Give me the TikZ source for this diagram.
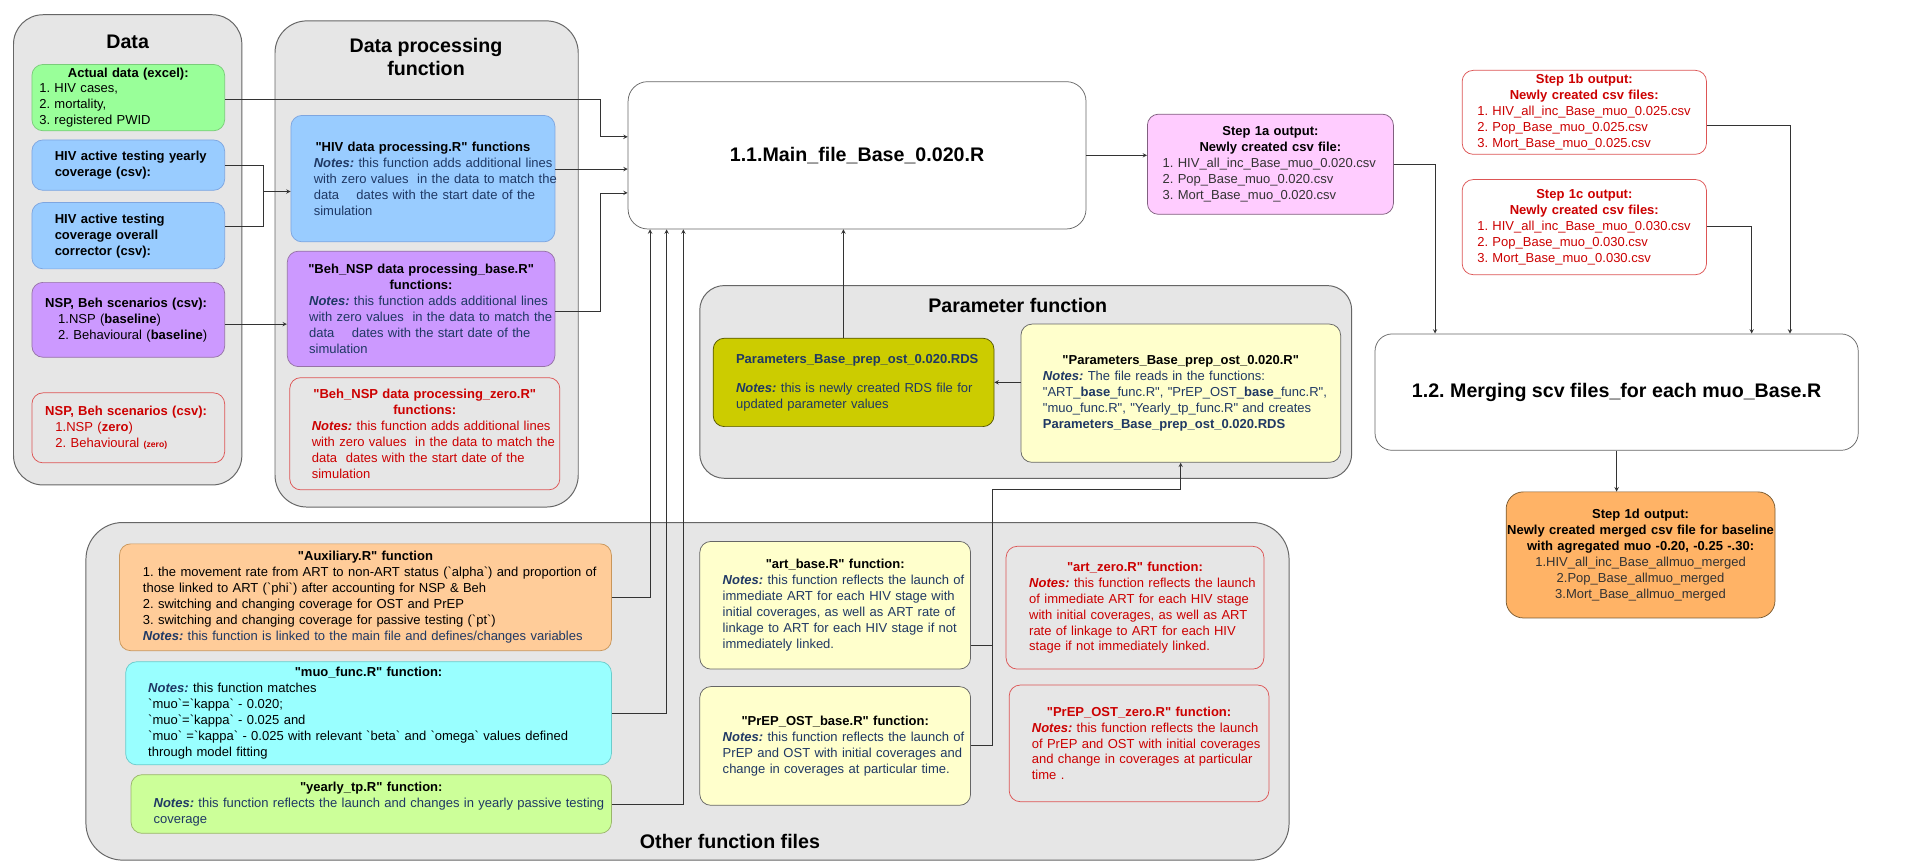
\documentclass[tikz,border=0pt]{standalone}
\usepackage{fontspec}
\setmainfont{Liberation Sans}[Ligatures=TeXOff]
\frenchspacing
% fills and lines
\definecolor{grp}{HTML}{E6E6E6}
\definecolor{grpline}{HTML}{666666}
\definecolor{navy}{HTML}{1F3864}
\definecolor{dgray}{HTML}{333333}
\definecolor{redtxt}{HTML}{CC0000}
\definecolor{redline}{HTML}{DD5555}
\definecolor{cgreen}{HTML}{99FF99}\definecolor{lgreen}{HTML}{7ACC7A}
\definecolor{cblue}{HTML}{99CCFF}\definecolor{lblue}{HTML}{7EA6E0}
\definecolor{cpurple}{HTML}{CC99FF}\definecolor{lpurple}{HTML}{9673A6}
\definecolor{cpink}{HTML}{FFCCFF}\definecolor{lpink}{HTML}{80607F}
\definecolor{corange}{HTML}{FFB366}\definecolor{lorange}{HTML}{7A5A30}
\definecolor{colive}{HTML}{CCCC00}\definecolor{lolive}{HTML}{555500}
\definecolor{cyellow}{HTML}{FFFFCC}
\definecolor{cpeach}{HTML}{FFCC99}\definecolor{lpeach}{HTML}{C9965A}
\definecolor{ccyan}{HTML}{99FFFF}\definecolor{lcyan}{HTML}{6CCCCC}
\definecolor{clime}{HTML}{CCFF99}\definecolor{llime}{HTML}{9AB56B}
% centred line inside a text-width node, whatever the left skip
\newcommand\ctr[1]{\leavevmode\hbox to\dimexpr\hsize-\leftskip\relax{\hss\hbox to\hsize{\hfil#1\hfil}}}
\newcommand\ttl[1]{\ctr{\bfseries#1}}
\newcommand\nts{\textbf{\textit{Notes:}}}
\begin{document}
\begin{tikzpicture}[x=1pt, y=-1pt, >=stealth,
    every node/.style={font=\fontsize{10.6}{13}\selectfont},
    grpbox/.style={draw=grpline, fill=grp, line width=0.8pt, inner sep=0pt},
    gtitle/.style={font=\fontsize{16}{19}\selectfont\bfseries, inner sep=0pt},
    cbox/.style={draw, line width=0.6pt, rounded corners=9pt, inner sep=0pt, text width=#1, minimum width=#1},
    lpad/.style={execute at begin node={\parindent=0pt\leftskip=#1pt\rightskip=-30pt plus 1fil}},
    redbox/.style={draw=redline, text=redtxt},
    con/.style={draw=dgray, line width=0.6pt}]
\fill[white] (0,0) rectangle (1568,705);
\useasboundingbox (0,0) rectangle (1568,705);

% group frames
\node[grpbox, rounded corners=24pt, minimum width=186pt, minimum height=383pt] (gdata) at (104,203.5) {};
\node[grpbox, rounded corners=26pt, minimum width=247pt, minimum height=396pt] (gproc) at (347.5,215) {};
\node[grpbox, rounded corners=20pt, minimum width=531pt, minimum height=157pt] (gpar) at (835.5,311.1) {};
\node[grpbox, rounded corners=30pt, minimum width=980pt, minimum height=275pt] (goth) at (560,563.1) {};
\node[gtitle] (tdata) at (104,34) {Data};
\node[gtitle, align=center] (tproc) at (347,46.2) {Data processing\\function};
\node[gtitle] (tpar) at (829,248.5) {Parameter function};
\node[gtitle] (toth) at (594.6,685.6) {Other function files};

% input data
\node[cbox=157pt, lpad=6, minimum height=54pt, fill=cgreen, draw=lgreen] (actual) at (104.5,79.5)
  {\ttl{Actual data (excel):}\\1. HIV cases,\\2. mortality,\\3. registered PWID};
\node[cbox=157pt, lpad=18.6, minimum height=41pt, fill=cblue, draw=lblue] (hivyr) at (104.5,134.5)
  {\bfseries HIV active testing yearly\\coverage (csv):};
\node[cbox=157pt, lpad=18.6, minimum height=54pt, fill=cblue, draw=lblue] (hivcorr) at (104.5,192)
  {\bfseries HIV active testing\\coverage overall\\corrector (csv):};
\node[cbox=157pt, lpad=10.8, minimum height=61pt, fill=cpurple, draw=lpurple] (nspbase) at (104.5,260.5)
  {\textbf{NSP, Beh scenarios (csv):}\\\hspace*{10.6pt}1.NSP (\textbf{baseline})\\\hspace*{10.6pt}2. Behavioural (\textbf{baseline})};
\node[cbox=157pt, lpad=10.8, minimum height=57pt, redbox] (nspzero) at (104.5,348.5)
  {\textbf{NSP, Beh scenarios (csv):}\\\hspace*{8.4pt}1.NSP (\textbf{zero})\\\hspace*{8.4pt}2. Behavioural {\fontsize{7}{8}\selectfont\bfseries(zero)}};

% data processing
\node[cbox=215pt, lpad=18.6, minimum height=103pt, fill=cblue, draw=lblue] (hivproc) at (344.5,145.5)
  {\ttl{"HIV data processing.R" functions}\\{\color{navy}\nts{} this function adds additional lines\\with zero values\ \ in the data to match the\\data\ \ \ \ dates with the start date of the\\simulation}};
\node[cbox=218pt, lpad=17.8, minimum height=94pt, fill=cpurple, draw=lpurple] (behbase) at (343,251.6)
  {\ttl{"Beh\_NSP data processing\_base.R"}\\\ttl{functions:}\\{\color{navy}\nts{} this function adds additional lines\\with zero values\ \ in the data to match the\\data\ \ \ \ dates with the start date of the\\simulation}};
\node[cbox=220pt, lpad=18, minimum height=91.4pt, redbox] (behzero) at (346,353.3)
  {\ttl{"Beh\_NSP data processing\_zero.R"}\\\ttl{functions:}\\\nts{} this function adds additional lines\\with zero values\ \ in the data to match the\\data\ \ dates with the start date of the\\simulation};

% main file and outputs
\node[draw=grpline, line width=0.6pt, fill=white, rounded corners=16pt, minimum width=373pt, minimum height=120pt,
  font=\fontsize{16}{19}\selectfont\bfseries] (main) at (698.1,126.5) {1.1.Main\_file\_Base\_0.020.R};
\node[cbox=200.4pt, lpad=12.4, minimum height=81.6pt, fill=cpink, draw=lpink] (s1a) at (1034.8,133.8)
  {\ttl{Step 1a output:}\\\ttl{Newly created csv file:}\\{\color{dgray}1. HIV\_all\_inc\_Base\_muo\_0.020.csv\\2. Pop\_Base\_muo\_0.020.csv\\3. Mort\_Base\_muo\_0.020.csv}};
\node[cbox=199pt, lpad=12.3, minimum height=68.4pt, redbox] (s1b) at (1290.5,91.5)
  {\ttl{Step 1b output:}\\\ttl{Newly created csv files:}\\1. HIV\_all\_inc\_Base\_muo\_0.025.csv\\2. Pop\_Base\_muo\_0.025.csv\\3. Mort\_Base\_muo\_0.025.csv};
\node[cbox=199pt, lpad=12.3, minimum height=77.5pt, redbox] (s1c) at (1290.5,185)
  {\ttl{Step 1c output:}\\\ttl{Newly created csv files:}\\1. HIV\_all\_inc\_Base\_muo\_0.030.csv\\2. Pop\_Base\_muo\_0.030.csv\\3. Mort\_Base\_muo\_0.030.csv};
\node[draw=grpline, line width=0.6pt, rounded corners=14pt, minimum width=393.6pt, minimum height=94.8pt,
  font=\fontsize{16}{19}\selectfont\bfseries] (merge) at (1316.8,319.4) {1.2. Merging scv files\_for each muo\_Base.R};
\node[cbox=219pt, lpad=0, minimum height=102.7pt, fill=corange, draw=lorange, rounded corners=14pt] (s1d) at (1336.3,452)
  {\ttl{Step 1d output:}\\\ttl{Newly created merged csv file for baseline}\\\ttl{with agregated muo -0.20, -0.25 -.30:}\\\ctr{\color{dgray}1.HIV\_all\_inc\_Base\_allmuo\_merged}\\\ctr{\color{dgray}2.Pop\_Base\_allmuo\_merged}\\\ctr{\color{dgray}3.Mort\_Base\_allmuo\_merged}};

% parameter function
\node[cbox=228.7pt, lpad=18.6, minimum height=72pt, fill=colive, draw=lolive, text=navy] (rds) at (695.3,311.5)
  {\textbf{Parameters\_Base\_prep\_ost\_0.020.RDS}\\[10.7pt]\nts{} this is newly created RDS file for\\updated parameter values};
\node[cbox=260.4pt, lpad=17.9, minimum height=112.6pt, fill=cyellow, draw=grpline] (parr) at (961.8,320.3)
  {\ttl{"Parameters\_Base\_prep\_ost\_0.020.R"}\\{\color{navy}\nts{} The file reads in the functions:\\"ART\_\textbf{base}\_func.R", "PrEP\_OST\_\textbf{base}\_func.R",\\"muo\_func.R", "Yearly\_tp\_func.R" and creates\\\textbf{Parameters\_Base\_prep\_ost\_0.020.RDS}}};

% other function files
\node[cbox=400.6pt, lpad=19, minimum height=87pt, fill=cpeach, draw=lpeach] (aux) at (297.7,486.5)
  {\ttl{"Auxiliary.R" function}\\1. the movement rate from ART to non-ART status (`alpha`) and proportion of\\those linked to ART (`phi`) after accounting for NSP \& Beh\\2. switching and changing coverage for OST and PrEP\\3. switching and changing coverage for passive testing (`pt`)\\{\color{navy}\nts{} this function is linked to the main file and defines/changes variables}};
\node[cbox=395.6pt, lpad=18.3, minimum height=84pt, fill=ccyan, draw=lcyan] (muo) at (300.2,581)
  {\ttl{"muo\_func.R" function:}\\{\color{navy}\nts{}} this function matches\\`muo`=`kappa` - 0.020;\\`muo`=`kappa` - 0.025 and\\`muo` =`kappa` - 0.025 with relevant `beta` and `omega` values defined\\through model fitting};
\node[cbox=391.3pt, lpad=18.4, minimum height=47.8pt, fill=clime, draw=llime] (ytp) at (302.4,654.9)
  {\ttl{"yearly\_tp.R" function:}\\{\color{navy}\nts{} this function reflects the launch and changes in yearly passive testing\\coverage}};
\node[cbox=220.6pt, lpad=18.7, minimum height=104pt, fill=cyellow, draw=grpline] (artb) at (680.3,493)
  {\ttl{"art\_base.R" function:}\\{\color{navy}\nts{} this function reflects the launch of\\immediate ART for each HIV stage with\\initial coverages, as well as ART rate of\\linkage to ART for each HIV stage if not\\immediately linked.}};
\node[cbox=220.6pt, lpad=18.7, minimum height=96.7pt, fill=cyellow, draw=grpline] (prepb) at (680.3,607.6)
  {\ttl{"PrEP\_OST\_base.R" function:}\\{\color{navy}\nts{} this function reflects the launch of\\PrEP and OST with initial coverages and\\change in coverages at particular time.}};
\node[cbox=210pt, lpad=18.8, minimum height=100pt, redbox] (artz) at (924.5,495)
  {\ttl{"art\_zero.R" function:}\\\nts{} this function reflects the launch\\of immediate ART for each HIV stage\\with initial coverages, as well as ART\\rate of linkage to ART for each HIV\\stage if not immediately linked.};
\node[cbox=211.6pt, lpad=18.5, minimum height=95pt, redbox] (prepz) at (927.8,605.5)
  {\ttl{"PrEP\_OST\_zero.R" function:}\\\nts{} this function reflects the launch\\of PrEP and OST with initial coverages\\and change in coverages at particular\\time .};

% connectors
\coordinate (jhiv) at (214.5,156); % join of the two testing inputs
\draw[con] (hivyr.east) -| (jhiv) |- (hivcorr.east |- 0,184.6);
\draw[con,->] (jhiv) -- (hivproc.west |- jhiv);
\draw[con,->] (nspbase.east |- 0,264) -- (behbase.west |- 0,264);
\draw[con,->] (actual.east |- 0,80.6) -| (489.3,111.4) -- (main.west |- 0,111.4);
\draw[con,->] (hivproc.east |- 0,137.7) -- (main.west |- 0,137.7);
\draw[con,->] (behbase.east |- 0,254) -| (489.3,157.1) -- (main.west |- 0,157.1);
\draw[con,->] (main.east) -- (main.east -| s1a.west);
\draw[con,->] (s1a.east) -| (merge.north -| 1168.9,0);
\draw[con,->] (s1b.east |- 0,102.5) -| (merge.north -| 1458,0);
\draw[con,->] (s1c.east |- 0,184.7) -| (merge.north -| 1426.8,0);
\draw[con,->] (merge.south) -- (merge.south |- s1d.north);
\draw[con,->] (rds.north -| 687,0) -- (main.south -| 687,0);
\draw[con,->] (parr.west |- rds.east) -- (rds.east);
\foreach \b/\x in {aux/529.5, muo/543, ytp/556.6}
  \draw[con,->] (\b.east) -| (main.south -| \x,0);
\draw[con] (artb.east |- 0,526) -- (808.3,526);
\draw[con,->] (prepb.east |- 0,607) -| (808.3,399) -| (parr.south -| 961.7,0);
\end{tikzpicture}
\end{document}
